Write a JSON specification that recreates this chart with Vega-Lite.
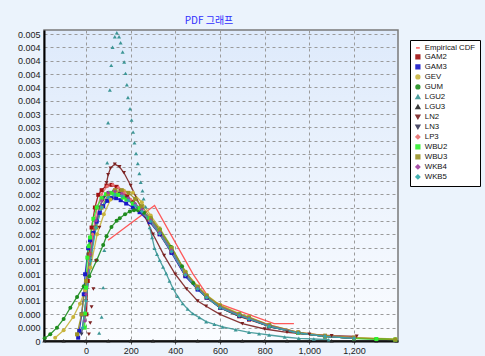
{
"$schema": "https://vega.github.io/schema/vega-lite/v6.json",
"width": 354, "height": 311,
"autosize": {"type": "none"},
"padding": {"left": 44, "top": 30, "right": 87, "bottom": 15},
"background": "#ebf3fc",
"title": {"text": "PDF 그래프", "font": "Noto Sans CJK KR", "fontSize": 10, "fontWeight": "normal", "color": "#3030ff", "anchor": "middle", "dx": -12, "offset": 4},
"config": {
  "font": "Liberation Sans",
  "view": {"stroke": "#7a7a7a", "strokeWidth": 1.5, "fill": {"gradient": "linear", "x1": 0, "y1": 0, "x2": 0, "y2": 1, "stops": [{"offset": 0, "color": "#deeafb"}, {"offset": 1, "color": "#fafcff"}]}},
  "axis": {"grid": true, "gridColor": "#9a9a9a", "gridDash": [3, 3], "gridWidth": 1, "domainColor": "#000000", "domainWidth": 2, "labelFontSize": 9, "labelColor": "#222222", "title": null, "tickColor": "#555555"},
  "legend": {"orient": "none", "legendX": 366, "legendY": 10, "fillColor": "#ffffff", "strokeColor": "#000000", "padding": 4, "labelFontSize": 7.8, "symbolSize": 14, "rowPadding": 0, "labelOffset": 3, "title": null, "labelColor": "#111111", "symbolStrokeWidth": 1.5}
},
"data": {"values": [
{"s":"Empirical CDF","x":99,"y":0.00151},{"s":"Empirical CDF","x":307,"y":0.00203},{"s":"Empirical CDF","x":478,"y":0.00101},{"s":"Empirical CDF","x":560,"y":0.0006},{"s":"Empirical CDF","x":842,"y":0.00026},{"s":"Empirical CDF","x":931,"y":0.00026},
{"s":"GAM2","x":2,"y":0.0004},{"s":"GAM2","x":8,"y":0.0009},{"s":"GAM2","x":15,"y":0.0013},{"s":"GAM2","x":25,"y":0.0017},{"s":"GAM2","x":40,"y":0.002},{"s":"GAM2","x":55,"y":0.00219},{"s":"GAM2","x":70,"y":0.00226},{"s":"GAM2","x":92,"y":0.00233},{"s":"GAM2","x":114,"y":0.00234},{"s":"GAM2","x":137,"y":0.00231},{"s":"GAM2","x":159,"y":0.00225},{"s":"GAM2","x":185,"y":0.00217},{"s":"GAM2","x":210,"y":0.00208},{"s":"GAM2","x":240,"y":0.00198},{"s":"GAM2","x":285,"y":0.0018},{"s":"GAM2","x":330,"y":0.0016},{"s":"GAM2","x":383,"y":0.00133},{"s":"GAM2","x":445,"y":0.00098},{"s":"GAM2","x":500,"y":0.00078},{"s":"GAM2","x":540,"y":0.00065},{"s":"GAM2","x":600,"y":0.0005},{"s":"GAM2","x":686,"y":0.00037},{"s":"GAM2","x":730,"y":0.00032},{"s":"GAM2","x":820,"y":0.00022},{"s":"GAM2","x":950,"y":0.00012},{"s":"GAM2","x":1070,"y":0.00007},{"s":"GAM2","x":1200,"y":0.00004},
{"s":"GAM3","x":-35,"y":0.00005},{"s":"GAM3","x":-30,"y":0.00015},{"s":"GAM3","x":-19,"y":0.0004},{"s":"GAM3","x":-10,"y":0.0007},{"s":"GAM3","x":-4,"y":0.001},{"s":"GAM3","x":10,"y":0.00139},{"s":"GAM3","x":18,"y":0.00151},{"s":"GAM3","x":33,"y":0.00162},{"s":"GAM3","x":48,"y":0.00179},{"s":"GAM3","x":62,"y":0.00192},{"s":"GAM3","x":77,"y":0.00202},{"s":"GAM3","x":95,"y":0.0021},{"s":"GAM3","x":114,"y":0.00214},{"s":"GAM3","x":135,"y":0.00214},{"s":"GAM3","x":155,"y":0.00211},{"s":"GAM3","x":180,"y":0.00206},{"s":"GAM3","x":210,"y":0.002},{"s":"GAM3","x":240,"y":0.00193},{"s":"GAM3","x":285,"y":0.00178},{"s":"GAM3","x":330,"y":0.0016},{"s":"GAM3","x":383,"y":0.00132},{"s":"GAM3","x":445,"y":0.00097},{"s":"GAM3","x":500,"y":0.00077},{"s":"GAM3","x":540,"y":0.00065},{"s":"GAM3","x":600,"y":0.0005},{"s":"GAM3","x":686,"y":0.00038},{"s":"GAM3","x":730,"y":0.00033},{"s":"GAM3","x":820,"y":0.00022},{"s":"GAM3","x":950,"y":0.00012},{"s":"GAM3","x":1070,"y":0.00007},{"s":"GAM3","x":1200,"y":0.00004},
{"s":"GEV","x":-138,"y":0.00005},{"s":"GEV","x":-100,"y":0.00016},{"s":"GEV","x":-57,"y":0.00036},{"s":"GEV","x":-27,"y":0.00056},{"s":"GEV","x":-4,"y":0.00076},{"s":"GEV","x":20,"y":0.0011},{"s":"GEV","x":50,"y":0.0016},{"s":"GEV","x":80,"y":0.0019},{"s":"GEV","x":110,"y":0.00212},{"s":"GEV","x":140,"y":0.00222},{"s":"GEV","x":170,"y":0.00225},{"s":"GEV","x":210,"y":0.00222},{"s":"GEV","x":250,"y":0.00208},{"s":"GEV","x":290,"y":0.00188},{"s":"GEV","x":330,"y":0.00169},{"s":"GEV","x":383,"y":0.00141},{"s":"GEV","x":445,"y":0.00104},{"s":"GEV","x":500,"y":0.00082},{"s":"GEV","x":540,"y":0.00069},{"s":"GEV","x":600,"y":0.00054},{"s":"GEV","x":686,"y":0.00041},{"s":"GEV","x":730,"y":0.00036},{"s":"GEV","x":820,"y":0.00024},{"s":"GEV","x":950,"y":0.00013},{"s":"GEV","x":1070,"y":0.00008},{"s":"GEV","x":1200,"y":0.00005},{"s":"GEV","x":1385,"y":0.00003},
{"s":"GUM","x":-185,"y":0.00004},{"s":"GUM","x":-160,"y":0.0001},{"s":"GUM","x":-130,"y":0.0002},{"s":"GUM","x":-100,"y":0.00033},{"s":"GUM","x":-70,"y":0.0005},{"s":"GUM","x":-40,"y":0.00066},{"s":"GUM","x":-10,"y":0.00082},{"s":"GUM","x":15,"y":0.00097},{"s":"GUM","x":48,"y":0.00121},{"s":"GUM","x":77,"y":0.00144},{"s":"GUM","x":92,"y":0.00157},{"s":"GUM","x":114,"y":0.00171},{"s":"GUM","x":137,"y":0.0018},{"s":"GUM","x":151,"y":0.00184},{"s":"GUM","x":175,"y":0.0019},{"s":"GUM","x":196,"y":0.00194},{"s":"GUM","x":215,"y":0.00196},{"s":"GUM","x":233,"y":0.00196},{"s":"GUM","x":260,"y":0.00192},{"s":"GUM","x":290,"y":0.00183},{"s":"GUM","x":330,"y":0.00167},{"s":"GUM","x":380,"y":0.00141},{"s":"GUM","x":430,"y":0.00112},{"s":"GUM","x":480,"y":0.00087},{"s":"GUM","x":540,"y":0.00066},{"s":"GUM","x":600,"y":0.00051},{"s":"GUM","x":686,"y":0.00039},{"s":"GUM","x":730,"y":0.00034},{"s":"GUM","x":820,"y":0.00023},{"s":"GUM","x":950,"y":0.00012},{"s":"GUM","x":1070,"y":0.00007},{"s":"GUM","x":1200,"y":0.00004},{"s":"GUM","x":1300,"y":0.00003},{"s":"GUM","x":1385,"y":0.00002},
{"s":"LGU2","x":59,"y":0.00012},{"s":"LGU2","x":70,"y":0.00036},{"s":"LGU2","x":77,"y":0.0008},{"s":"LGU2","x":82,"y":0.00136},{"s":"LGU2","x":95,"y":0.00267},{"s":"LGU2","x":99,"y":0.00327},{"s":"LGU2","x":107,"y":0.00376},{"s":"LGU2","x":113,"y":0.00413},{"s":"LGU2","x":119,"y":0.0044},{"s":"LGU2","x":129,"y":0.00456},{"s":"LGU2","x":138,"y":0.00462},{"s":"LGU2","x":148,"y":0.00456},{"s":"LGU2","x":155,"y":0.00447},{"s":"LGU2","x":164,"y":0.00433},{"s":"LGU2","x":171,"y":0.00418},{"s":"LGU2","x":177,"y":0.00401},{"s":"LGU2","x":183,"y":0.00384},{"s":"LGU2","x":188,"y":0.00365},{"s":"LGU2","x":197,"y":0.00348},{"s":"LGU2","x":204,"y":0.00331},{"s":"LGU2","x":211,"y":0.00313},{"s":"LGU2","x":217,"y":0.00297},{"s":"LGU2","x":224,"y":0.00281},{"s":"LGU2","x":232,"y":0.00266},{"s":"LGU2","x":239,"y":0.00251},{"s":"LGU2","x":245,"y":0.00238},{"s":"LGU2","x":253,"y":0.00225},{"s":"LGU2","x":258,"y":0.00213},{"s":"LGU2","x":267,"y":0.00201},{"s":"LGU2","x":276,"y":0.00185},{"s":"LGU2","x":285,"y":0.0017},{"s":"LGU2","x":296,"y":0.00155},{"s":"LGU2","x":307,"y":0.00139},{"s":"LGU2","x":318,"y":0.0013},{"s":"LGU2","x":330,"y":0.00121},{"s":"LGU2","x":345,"y":0.00111},{"s":"LGU2","x":359,"y":0.00101},{"s":"LGU2","x":374,"y":0.0009},{"s":"LGU2","x":389,"y":0.00079},{"s":"LGU2","x":410,"y":0.00067},{"s":"LGU2","x":433,"y":0.00056},{"s":"LGU2","x":455,"y":0.00048},{"s":"LGU2","x":478,"y":0.00041},{"s":"LGU2","x":508,"y":0.00035},{"s":"LGU2","x":538,"y":0.00029},{"s":"LGU2","x":575,"y":0.00025},{"s":"LGU2","x":612,"y":0.00021},{"s":"LGU2","x":670,"y":0.00017},{"s":"LGU2","x":730,"y":0.00013},{"s":"LGU2","x":775,"y":0.00011},{"s":"LGU2","x":820,"y":0.00009},{"s":"LGU2","x":890,"y":0.00006},{"s":"LGU2","x":953,"y":0.00004},{"s":"LGU2","x":1020,"y":0.00003},{"s":"LGU2","x":1087,"y":0.00002},
{"s":"LGU3","x":-187,"y":0.000004},{"s":"LGU3","x":-100,"y":0.000004},{"s":"LGU3","x":0,"y":0.000004},{"s":"LGU3","x":100,"y":0.000004},{"s":"LGU3","x":200,"y":0.000004},{"s":"LGU3","x":300,"y":0.000004},{"s":"LGU3","x":400,"y":0.000004},{"s":"LGU3","x":500,"y":0.000004},{"s":"LGU3","x":600,"y":0.000004},{"s":"LGU3","x":700,"y":0.000004},{"s":"LGU3","x":800,"y":0.000004},{"s":"LGU3","x":900,"y":0.000004},{"s":"LGU3","x":1000,"y":0.000004},{"s":"LGU3","x":1100,"y":0.000004},{"s":"LGU3","x":1200,"y":0.000004},{"s":"LGU3","x":1300,"y":0.000004},{"s":"LGU3","x":1390,"y":0.000004},
{"s":"LN2","x":13,"y":0.0001},{"s":"LN2","x":19,"y":0.00027},{"s":"LN2","x":25,"y":0.00051},{"s":"LN2","x":33,"y":0.00078},{"s":"LN2","x":45,"y":0.0012},{"s":"LN2","x":60,"y":0.0017},{"s":"LN2","x":75,"y":0.0021},{"s":"LN2","x":92,"y":0.00237},{"s":"LN2","x":99,"y":0.00249},{"s":"LN2","x":110,"y":0.00259},{"s":"LN2","x":129,"y":0.00265},{"s":"LN2","x":150,"y":0.00261},{"s":"LN2","x":170,"y":0.00252},{"s":"LN2","x":200,"y":0.00233},{"s":"LN2","x":250,"y":0.00197},{"s":"LN2","x":300,"y":0.0016},{"s":"LN2","x":350,"y":0.00128},{"s":"LN2","x":400,"y":0.001},{"s":"LN2","x":450,"y":0.00078},{"s":"LN2","x":500,"y":0.0006},{"s":"LN2","x":538,"y":0.00052},{"s":"LN2","x":600,"y":0.0004},{"s":"LN2","x":700,"y":0.00026},{"s":"LN2","x":800,"y":0.00018},{"s":"LN2","x":900,"y":0.00013},{"s":"LN2","x":1000,"y":0.0001},{"s":"LN2","x":1100,"y":0.00008},{"s":"LN2","x":1212,"y":0.00007},
{"s":"LN3","x":-20,"y":0.0001},{"s":"LN3","x":0,"y":0.0006},{"s":"LN3","x":20,"y":0.0012},{"s":"LN3","x":40,"y":0.0017},{"s":"LN3","x":60,"y":0.002},{"s":"LN3","x":80,"y":0.00215},{"s":"LN3","x":100,"y":0.00222},{"s":"LN3","x":125,"y":0.00224},{"s":"LN3","x":150,"y":0.00221},{"s":"LN3","x":180,"y":0.00214},{"s":"LN3","x":210,"y":0.00205},{"s":"LN3","x":240,"y":0.00196},{"s":"LN3","x":285,"y":0.0018},{"s":"LN3","x":330,"y":0.00162},{"s":"LN3","x":383,"y":0.00135},{"s":"LN3","x":445,"y":0.001},{"s":"LN3","x":500,"y":0.00078},{"s":"LN3","x":540,"y":0.00065},{"s":"LN3","x":600,"y":0.0005},{"s":"LN3","x":686,"y":0.00037},{"s":"LN3","x":730,"y":0.00033},{"s":"LN3","x":820,"y":0.00022},{"s":"LN3","x":950,"y":0.00012},{"s":"LN3","x":1070,"y":0.00007},{"s":"LN3","x":1200,"y":0.00004},
{"s":"LP3","x":-10,"y":0.0002},{"s":"LP3","x":0,"y":0.0006},{"s":"LP3","x":15,"y":0.0012},{"s":"LP3","x":30,"y":0.0016},{"s":"LP3","x":50,"y":0.002},{"s":"LP3","x":70,"y":0.0022},{"s":"LP3","x":95,"y":0.00232},{"s":"LP3","x":120,"y":0.00234},{"s":"LP3","x":145,"y":0.0023},{"s":"LP3","x":170,"y":0.00223},{"s":"LP3","x":200,"y":0.00212},{"s":"LP3","x":240,"y":0.00198},{"s":"LP3","x":285,"y":0.0018},{"s":"LP3","x":330,"y":0.00161},{"s":"LP3","x":383,"y":0.00134},{"s":"LP3","x":445,"y":0.00099},{"s":"LP3","x":500,"y":0.00079},{"s":"LP3","x":540,"y":0.00066},{"s":"LP3","x":600,"y":0.00051},{"s":"LP3","x":686,"y":0.00039},{"s":"LP3","x":730,"y":0.00034},{"s":"LP3","x":820,"y":0.00023},{"s":"LP3","x":950,"y":0.00013},{"s":"LP3","x":1070,"y":0.00008},{"s":"LP3","x":1200,"y":0.00005},
{"s":"WBU2","x":-6,"y":0.0002},{"s":"WBU2","x":-4,"y":0.00041},{"s":"WBU2","x":0,"y":0.0008},{"s":"WBU2","x":6,"y":0.00125},{"s":"WBU2","x":12,"y":0.00142},{"s":"WBU2","x":18,"y":0.00155},{"s":"WBU2","x":33,"y":0.00183},{"s":"WBU2","x":48,"y":0.002},{"s":"WBU2","x":70,"y":0.00214},{"s":"WBU2","x":90,"y":0.0022},{"s":"WBU2","x":107,"y":0.00222},{"s":"WBU2","x":125,"y":0.00221},{"s":"WBU2","x":144,"y":0.00219},{"s":"WBU2","x":165,"y":0.00215},{"s":"WBU2","x":181,"y":0.00212},{"s":"WBU2","x":210,"y":0.00206},{"s":"WBU2","x":240,"y":0.00199},{"s":"WBU2","x":285,"y":0.00184},{"s":"WBU2","x":330,"y":0.00166},{"s":"WBU2","x":383,"y":0.00139},{"s":"WBU2","x":445,"y":0.00102},{"s":"WBU2","x":500,"y":0.0008},{"s":"WBU2","x":540,"y":0.00067},{"s":"WBU2","x":600,"y":0.00052},{"s":"WBU2","x":686,"y":0.0004},{"s":"WBU2","x":730,"y":0.00035},{"s":"WBU2","x":820,"y":0.00023},{"s":"WBU2","x":950,"y":0.00012},{"s":"WBU2","x":1070,"y":0.00007},{"s":"WBU2","x":1200,"y":0.00004},{"s":"WBU2","x":1300,"y":0.00003},{"s":"WBU2","x":1385,"y":0.00002},
{"s":"WBU3","x":-40,"y":0.0001},{"s":"WBU3","x":-20,"y":0.0004},{"s":"WBU3","x":0,"y":0.0009},{"s":"WBU3","x":20,"y":0.0013},{"s":"WBU3","x":45,"y":0.0017},{"s":"WBU3","x":70,"y":0.002},{"s":"WBU3","x":100,"y":0.0022},{"s":"WBU3","x":130,"y":0.00226},{"s":"WBU3","x":160,"y":0.00226},{"s":"WBU3","x":190,"y":0.00222},{"s":"WBU3","x":220,"y":0.00213},{"s":"WBU3","x":250,"y":0.00202},{"s":"WBU3","x":290,"y":0.00184},{"s":"WBU3","x":330,"y":0.00166},{"s":"WBU3","x":383,"y":0.00139},{"s":"WBU3","x":445,"y":0.00103},{"s":"WBU3","x":500,"y":0.00081},{"s":"WBU3","x":540,"y":0.00068},{"s":"WBU3","x":600,"y":0.00053},{"s":"WBU3","x":686,"y":0.0004},{"s":"WBU3","x":730,"y":0.00035},{"s":"WBU3","x":820,"y":0.00024},{"s":"WBU3","x":950,"y":0.00013},{"s":"WBU3","x":1070,"y":0.00008},{"s":"WBU3","x":1200,"y":0.00005},{"s":"WBU3","x":1385,"y":0.00002},
{"s":"WKB4","x":-5,"y":0.0003},{"s":"WKB4","x":0,"y":0.0007},{"s":"WKB4","x":20,"y":0.0013},{"s":"WKB4","x":45,"y":0.0018},{"s":"WKB4","x":70,"y":0.0021},{"s":"WKB4","x":100,"y":0.00222},{"s":"WKB4","x":130,"y":0.00224},{"s":"WKB4","x":160,"y":0.00221},{"s":"WKB4","x":190,"y":0.00214},{"s":"WKB4","x":220,"y":0.00206},{"s":"WKB4","x":250,"y":0.00197},{"s":"WKB4","x":290,"y":0.00181},{"s":"WKB4","x":330,"y":0.00163},{"s":"WKB4","x":383,"y":0.00136},{"s":"WKB4","x":445,"y":0.001},{"s":"WKB4","x":500,"y":0.00079},{"s":"WKB4","x":540,"y":0.00066},{"s":"WKB4","x":600,"y":0.00051},{"s":"WKB4","x":686,"y":0.00039},{"s":"WKB4","x":730,"y":0.00034},{"s":"WKB4","x":820,"y":0.00023},{"s":"WKB4","x":950,"y":0.00012},{"s":"WKB4","x":1070,"y":0.00007},{"s":"WKB4","x":1200,"y":0.00004},
{"s":"WKB5","x":-15,"y":0.0002},{"s":"WKB5","x":0,"y":0.0006},{"s":"WKB5","x":20,"y":0.0012},{"s":"WKB5","x":45,"y":0.0017},{"s":"WKB5","x":70,"y":0.002},{"s":"WKB5","x":100,"y":0.00215},{"s":"WKB5","x":130,"y":0.00219},{"s":"WKB5","x":160,"y":0.00217},{"s":"WKB5","x":190,"y":0.00211},{"s":"WKB5","x":220,"y":0.00203},{"s":"WKB5","x":250,"y":0.00194},{"s":"WKB5","x":290,"y":0.00179},{"s":"WKB5","x":330,"y":0.00161},{"s":"WKB5","x":383,"y":0.00134},{"s":"WKB5","x":445,"y":0.00099},{"s":"WKB5","x":500,"y":0.00078},{"s":"WKB5","x":540,"y":0.00065},{"s":"WKB5","x":600,"y":0.0005},{"s":"WKB5","x":686,"y":0.00038},{"s":"WKB5","x":730,"y":0.00033},{"s":"WKB5","x":820,"y":0.00022},{"s":"WKB5","x":950,"y":0.00012},{"s":"WKB5","x":1070,"y":0.00007},{"s":"WKB5","x":1200,"y":0.00004}
]},
"encoding": {
  "x": {"field": "x", "type": "quantitative", "scale": {"domain": [-188, 1397], "nice": false, "zero": false}, "axis": {"values": [0, 200, 400, 600, 800, 1000, 1200], "labelExpr": "format(datum.value, ',d')", "tickSize": 3, "labelPadding": 2}},
  "y": {"field": "y", "type": "quantitative", "scale": {"domain": [0, 0.00466], "nice": false}, "axis": {"values": [0, 0.0002, 0.0004, 0.0006, 0.0008, 0.001, 0.0012, 0.0014, 0.0016, 0.0018, 0.002, 0.0022, 0.0024, 0.0026, 0.0028, 0.003, 0.0032, 0.0034, 0.0036, 0.0038, 0.004, 0.0042, 0.0044, 0.0046], "labelExpr": "datum.value == 0 ? '0' : format(datum.value, '.3f')", "tickSize": 0, "labelPadding": 4}},
  "color": {"field": "s", "type": "nominal", "scale": {"domain": ["Empirical CDF", "GAM2", "GAM3", "GEV", "GUM", "LGU2", "LGU3", "LN2", "LN3", "LP3", "WBU2", "WBU3", "WKB4", "WKB5"], "range": ["#ff4848", "#a01010", "#1818c8", "#c8b43c", "#1e8c1e", "#3c9696", "#262626", "#7a2020", "#3a3a58", "#e87070", "#30f030", "#9a9226", "#a040a0", "#30aaaa"]}}
},
"layer": [
  {"transform": [{"filter": "!(datum.s == 'LGU2' && datum.x < 280) && !(datum.s == 'LN2' && datum.x < 90)"}],
   "mark": {"type": "line", "strokeWidth": 1.3, "opacity": 0.9}},
  {"transform": [{"filter": "datum.s != 'Empirical CDF'"}],
   "mark": {"type": "point", "filled": true, "size": 16, "opacity": 1},
   "encoding": {"shape": {"field": "s", "type": "nominal", "scale": {"domain": ["Empirical CDF", "GAM2", "GAM3", "GEV", "GUM", "LGU2", "LGU3", "LN2", "LN3", "LP3", "WBU2", "WBU3", "WKB4", "WKB5"], "range": ["stroke", "square", "square", "circle", "circle", "triangle-up", "triangle-up", "triangle-down", "triangle-down", "diamond", "square", "square", "diamond", "diamond"]}}}}
]
}
